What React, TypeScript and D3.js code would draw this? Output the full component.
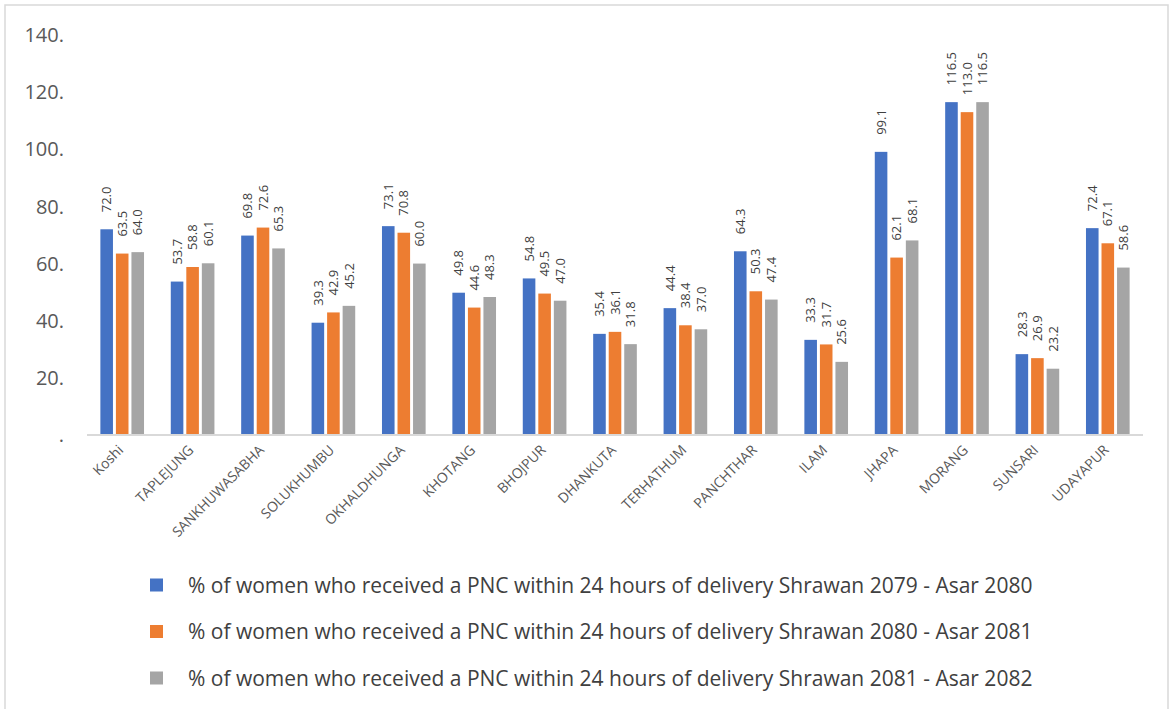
import * as d3 from "d3";

const categories = [
  "Koshi",
  "TAPLEJUNG",
  "SANKHUWASABHA",
  "SOLUKHUMBU",
  "OKHALDHUNGA",
  "KHOTANG",
  "BHOJPUR",
  "DHANKUTA",
  "TERHATHUM",
  "PANCHTHAR",
  "ILAM",
  "JHAPA",
  "MORANG",
  "SUNSARI",
  "UDAYAPUR",
];

const pnc2079 = [72.0, 53.7, 69.8, 39.3, 73.1, 49.8, 54.8, 35.4, 44.4, 64.3, 33.3, 99.1, 116.5, 28.3, 72.4];
const pnc2080 = [63.5, 58.8, 72.6, 42.9, 70.8, 44.6, 49.5, 36.1, 38.4, 50.3, 31.7, 62.1, 113.0, 26.9, 67.1];
const pnc2081 = [64.0, 60.1, 65.3, 45.2, 60.0, 48.3, 47.0, 31.8, 37.0, 47.4, 25.6, 68.1, 116.5, 23.2, 58.6];

const seriesNames = [
  "% of women who received a PNC within 24 hours of delivery Shrawan 2079 - Asar 2080",
  "% of women who received a PNC within 24 hours of delivery Shrawan 2080 - Asar 2081",
  "% of women who received a PNC within 24 hours of delivery Shrawan 2081 - Asar 2082",
];
const seriesColors = ["#4472C4", "#ED7D31", "#A5A5A5"];

const yTicks = [0, 20, 40, 60, 80, 100, 120, 140];
const yTickLabels = [".", "20.", "40.", "60.", "80.", "100.", "120.", "140."];

const W = 1173;
const H = 709;
const FONT = "'Open Sans', sans-serif";

export default function App() {
  const series = [pnc2079, pnc2080, pnc2081];

  const x = d3.scaleBand().domain(categories).range([87, 1143]).paddingInner(0.38).paddingOuter(0.19);
  const xs = d3.scaleBand().domain(["0", "1", "2"]).range([0, x.bandwidth()]).paddingInner(0.19);
  const y = d3.scaleLinear().domain([0, 140]).range([435, 35]);

  return (
    <svg width={W} height={H} style={{ position: "absolute", left: 0, top: 0, display: "block" }} fontFamily={FONT}>
      <rect x={5} y={5} width={1163} height={740} fill="#fff" stroke="#d9d9d9" strokeWidth={1.5} />

      {/* y axis labels */}
      {yTicks.map((t, i) => (
        <text key={t} x={64} y={y(t)} dy="0.36em" textAnchor="end" fontSize={20} fill="#595959">
          {yTickLabels[i]}
        </text>
      ))}

      {/* bars + labels */}
      {categories.map((c) => (
        <g key={c} transform={`translate(${x(c)},0)`}>
          {series.map((vals, s) => {
            const v = vals[categories.indexOf(c)];
            const bx = xs(String(s)) as number;
            const cx = bx + xs.bandwidth() / 2;
            return (
              <g key={s}>
                <rect x={bx} y={y(v)} width={xs.bandwidth()} height={y(0) - y(v)} fill={seriesColors[s]} />
                <text
                  transform={`translate(${cx},${y(v) - 17}) rotate(-90)`}
                  textAnchor="start"
                  dy="0.36em"
                  fontSize={13}
                  fill="#404040"
                >
                  {v.toFixed(1)}
                </text>
              </g>
            );
          })}
        </g>
      ))}

      {/* baseline */}
      <line x1={87} x2={1143} y1={y(0)} y2={y(0)} stroke="#d9d9d9" strokeWidth={2} />

      {/* x labels */}
      {categories.map((c) => {
        const cx = (x(c) as number) + x.bandwidth() / 2;
        return (
          <text
            key={c}
            transform={`translate(${cx - 5},${y(0) + 9}) rotate(-45)`}
            textAnchor="end"
            dy="0.7em"
            fontSize={14}
            fill="#595959"
          >
            {c}
          </text>
        );
      })}

      {/* legend */}
      {seriesNames.map((name, i) => {
        const ly = 585 + i * 46.5;
        return (
          <g key={name}>
            <rect x={150} y={ly - 6.5} width={13} height={13} fill={seriesColors[i]} />
            <text x={188} y={ly} dy="0.36em" fontSize={21} fill="#404040">
              {name}
            </text>
          </g>
        );
      })}
    </svg>
  );
}
